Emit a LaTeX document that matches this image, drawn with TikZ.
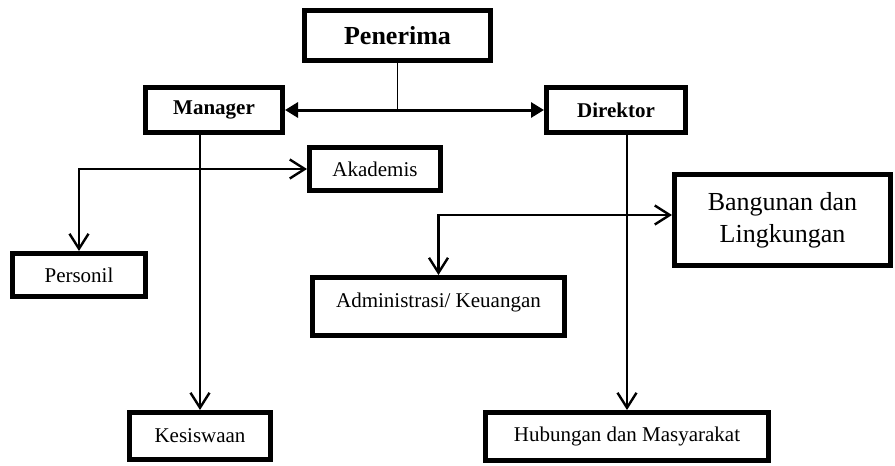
\documentclass[tikz,border=0pt]{standalone}
\usepackage{fontspec}
\setmainfont{Liberation Serif}
\usetikzlibrary{arrows.meta}

\begin{document}
\begin{tikzpicture}[x=1pt, y=-1pt,
  box/.style = {draw, line width=5pt, inner sep=0pt, align=center, font=\fontsize{21}{25}\selectfont},
  link/.style = {line width=2.4pt},
  tri/.tip = {Triangle[length=13pt, width=15pt]},
  vbarb/.tip = {Straight Barb[length=15pt, width=19pt]}]
\useasboundingbox (0,0) rectangle (895,466);
\node[box, minimum width=186pt, minimum height=50pt, font=\fontsize{26}{30}\selectfont\bfseries] (pen) at (397.5,35.5) {Penerima};
\node[box, minimum width=137pt, minimum height=45pt, font=\fontsize{21}{25}\selectfont\bfseries] (man) at (214,110) {Manager};
\node[box, minimum width=139pt, minimum height=45pt, font=\fontsize{21}{25}\selectfont\bfseries] (dir) at (616,110) {Direktor};
\node[box, minimum width=131pt, minimum height=43pt] (aka) at (375,169) {Akademis};
\node[box, minimum width=133pt, minimum height=43pt] (per) at (79,275) {Personil};
\node[box, minimum width=216pt, minimum height=91pt, font=\fontsize{26}{32}\selectfont] (bang) at (782.5,220) {Bangunan dan\\Lingkungan};
\node[box, minimum width=252pt, minimum height=58pt] (adm) at (438.5,306.5) {\raisebox{4pt}[\height][\depth]{Administrasi/ Keuangan}};
\node[box, minimum width=141pt, minimum height=47pt] (kes) at (200,436) {Kesiswaan};
\node[box, minimum width=283pt, minimum height=48pt] (hub) at (627,436.5) {Hubungan dan Masyarakat};
% garis dari penerima
\draw[line width=1.8pt] (pen) -- (pen |- man);
\draw[link, line width=3pt, tri-tri] (man) -- (dir);
% cabang manager
\draw[link, -vbarb] (man.south -| kes.north) -- (kes);
\draw[link, vbarb-vbarb] (per) |- (aka);
% cabang direktor
\draw[link, -vbarb] (dir.south -| hub.north) -- (hub);
\draw[link, vbarb-vbarb] (adm) |- ([yshift=5pt]bang.west);
\end{tikzpicture}
\end{document}
